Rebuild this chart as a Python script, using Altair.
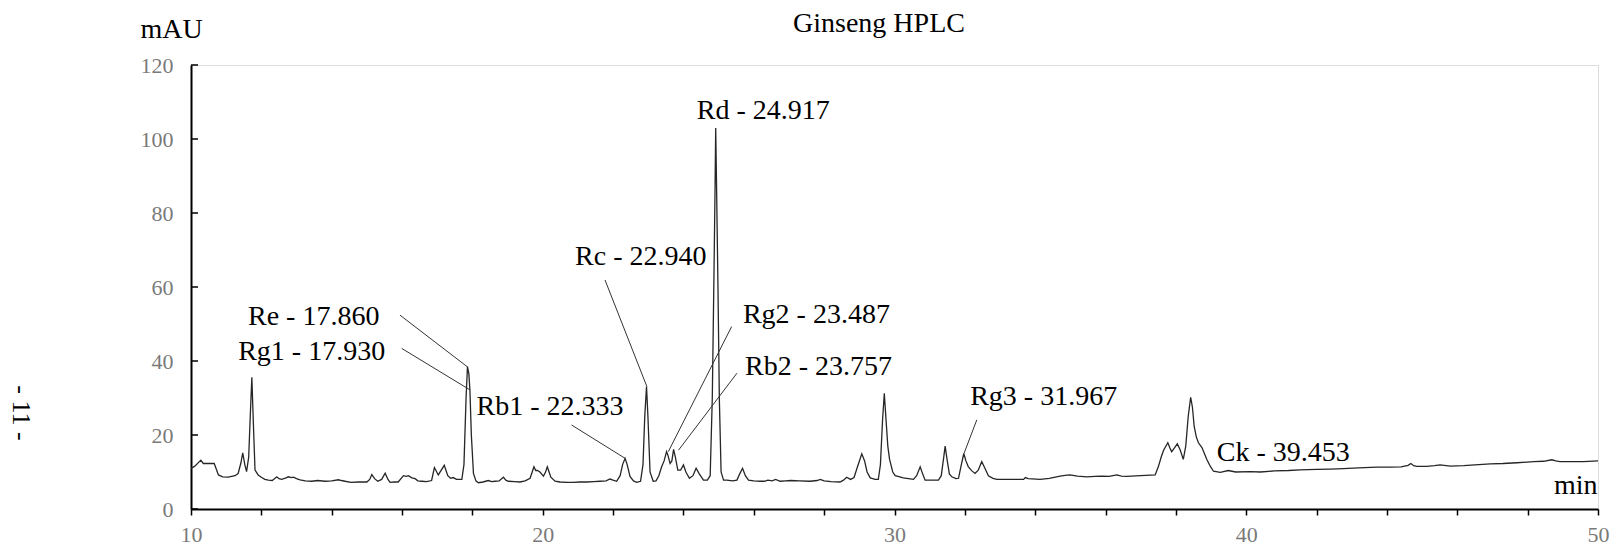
import altair as alt
import pandas as pd

# ---- chromatogram trace (retention time in min, absorbance in mAU) ----
times = [
    10.00, 10.10, 10.28, 10.35, 10.50, 10.66, 10.78, 10.90, 11.06, 11.25, 11.34, 11.42, 11.47, 11.53, 11.58,
    11.64, 11.68, 11.73, 11.77, 11.82, 11.91, 12.00, 12.10, 12.20, 12.31, 12.44, 12.50, 12.58, 12.70, 12.77,
    12.85, 12.91, 13.00, 13.10, 13.25, 13.43, 13.60, 13.81, 14.00, 14.19, 14.28, 14.38, 14.55, 14.76, 15.00,
    15.08, 15.14, 15.22, 15.31, 15.42, 15.52, 15.60, 15.66, 15.78, 15.89, 16.04, 16.12, 16.18, 16.28, 16.37,
    16.45, 16.56, 16.70, 16.84, 16.92, 17.03, 17.20, 17.30, 17.38, 17.45, 17.55, 17.64, 17.70, 17.76, 17.82,
    17.86, 17.90, 17.93, 17.97, 18.03, 18.10, 18.17, 18.30, 18.45, 18.55, 18.64, 18.76, 18.88, 18.95, 19.02,
    19.20, 19.35, 19.50, 19.64, 19.70, 19.75, 19.80, 19.85, 19.92, 20.02, 20.08, 20.13, 20.18, 20.23, 20.35,
    20.49, 20.70, 20.87, 21.05, 21.25, 21.45, 21.63, 21.80, 21.91, 22.00, 22.10, 22.20, 22.27, 22.34, 22.40,
    22.48, 22.58, 22.67, 22.78, 22.85, 22.90, 22.95, 22.99, 23.05, 23.14, 23.22, 23.30, 23.38, 23.45, 23.52,
    23.56, 23.62, 23.67, 23.72, 23.77, 23.84, 23.92, 24.00, 24.07, 24.17, 24.27, 24.36, 24.45, 24.57, 24.68,
    24.76, 24.82, 24.87, 24.90, 24.917, 24.94, 24.98, 25.02, 25.07, 25.14, 25.23, 25.40, 25.52, 25.60, 25.68,
    25.76, 25.85, 26.00, 26.18, 26.30, 26.40, 26.52, 26.62, 26.75, 26.90, 27.05, 27.30, 27.60, 27.80, 27.89,
    28.00, 28.20, 28.45, 28.55, 28.64, 28.75, 28.85, 28.95, 29.07, 29.15, 29.22, 29.31, 29.45, 29.54, 29.60,
    29.66, 29.71, 29.76, 29.81, 29.86, 29.95, 30.02, 30.10, 30.25, 30.40, 30.54, 30.63, 30.73, 30.80, 30.87,
    31.05, 31.25, 31.33, 31.40, 31.44, 31.50, 31.56, 31.63, 31.75, 31.82, 31.90, 31.97, 32.03, 32.10, 32.20,
    32.29, 32.38, 32.48, 32.56, 32.67, 32.80, 32.91, 33.20, 33.50, 33.67, 33.72, 33.80, 34.14, 34.40, 34.71,
    34.85, 34.99, 35.20, 35.47, 35.70, 35.89, 36.10, 36.32, 36.45, 36.60, 37.00, 37.41, 37.50, 37.58, 37.65,
    37.77, 37.83, 37.88, 37.96, 38.04, 38.12, 38.21, 38.28, 38.35, 38.42, 38.47, 38.52, 38.58, 38.64, 38.74,
    38.88, 38.98, 39.07, 39.26, 39.49, 39.70, 40.11, 40.40, 40.80, 41.20, 41.53, 42.00, 42.40, 42.76, 43.20,
    43.71, 44.09, 44.40, 44.60, 44.68, 44.76, 44.85, 45.13, 45.35, 45.51, 45.80, 46.18, 46.50, 46.94, 47.30,
    47.70, 48.17, 48.45, 48.69, 48.80, 48.92, 49.25, 49.58, 50.00,
]
absorbance = [
    11.0, 11.5, 13.2, 12.3, 12.3, 12.3, 9.2, 8.7, 8.6, 9.0, 9.6, 12.5, 15.2, 12.0, 10.1,
    14.0, 24.0, 35.6, 24.0, 10.5, 9.2, 8.6, 8.0, 7.8, 7.7, 8.7, 8.2, 8.0, 8.4, 8.7,
    8.5, 8.6, 8.2, 7.9, 7.6, 7.5, 7.7, 7.5, 7.6, 7.9, 7.7, 7.5, 7.2, 7.3, 7.3,
    8.0, 9.3, 8.2, 7.5, 8.0, 9.7, 8.0, 7.2, 7.3, 7.3, 9.0, 8.8, 9.0, 8.4, 8.2,
    7.6, 7.5, 7.4, 7.7, 11.2, 9.2, 11.8, 9.0, 8.3, 8.5, 8.0, 8.0, 8.0, 12.0, 30.0,
    38.5, 36.5, 32.0, 20.0, 9.6, 7.6, 7.1, 7.3, 7.7, 7.4, 7.5, 7.6, 8.6, 7.8, 7.5,
    7.4, 7.3, 7.6, 8.3, 10.0, 11.4, 10.4, 10.4, 10.0, 8.9, 10.0, 11.4, 10.0, 8.6, 7.5,
    7.3, 7.2, 7.2, 7.3, 7.3, 7.4, 7.5, 7.6, 8.1, 7.8, 7.5, 9.0, 12.0, 13.7, 12.0,
    8.8, 7.6, 7.2, 7.5, 12.0, 25.0, 33.1, 25.0, 10.0, 7.5, 7.6, 9.0, 11.4, 13.0, 15.5,
    14.5, 12.3, 13.0, 16.1, 14.0, 10.5, 10.5, 11.9, 10.0, 8.3, 9.0, 11.0, 9.5, 7.8, 7.8,
    9.0, 30.0, 65.0, 88.0, 103.0, 88.0, 61.0, 30.0, 10.0, 7.8, 7.8, 7.6, 7.8, 9.5, 11.0,
    9.0, 7.8, 7.6, 7.5, 7.5, 7.8, 7.6, 8.0, 7.5, 7.6, 7.7, 7.6, 7.5, 7.7, 8.0,
    7.6, 7.4, 7.3, 7.8, 8.6, 8.0, 8.5, 11.5, 14.9, 13.0, 10.0, 8.4, 8.0, 8.0, 12.0,
    24.0, 31.3, 24.0, 17.0, 13.4, 10.0, 9.0, 8.8, 8.4, 8.2, 8.0, 9.0, 11.4, 9.5, 7.8,
    7.8, 7.8, 9.0, 14.0, 17.0, 13.0, 9.5, 8.7, 8.2, 8.3, 12.0, 15.0, 13.0, 11.4, 10.3,
    9.6, 10.5, 12.8, 11.2, 9.0, 8.3, 8.0, 8.0, 8.0, 8.0, 8.5, 8.2, 8.0, 8.3, 8.9,
    9.1, 9.2, 8.9, 8.7, 8.8, 8.9, 8.8, 9.2, 8.9, 8.8, 9.0, 9.2, 11.4, 14.0, 15.9,
    17.9, 16.5, 15.5, 16.5, 17.6, 16.0, 13.4, 17.0, 25.0, 30.2, 27.5, 22.3, 19.5, 17.9, 16.6,
    13.4, 11.5, 10.2, 9.9, 10.4, 10.0, 10.1, 10.0, 10.3, 10.4, 10.6, 10.7, 10.8, 10.9, 11.1,
    11.3, 11.3, 11.4, 11.8, 12.3, 11.7, 11.5, 11.5, 11.7, 11.9, 11.6, 11.7, 11.9, 12.2, 12.3,
    12.5, 12.8, 12.9, 13.3, 13.0, 12.8, 12.8, 12.8, 13.0,
]

# ---- peak annotations ----
label_text = ["Re - 17.860", "Rg1 - 17.930", "Rb1 - 22.333", "Rc - 22.940", "Rd - 24.917",
              "Rg2 - 23.487", "Rb2 - 23.757", "Rg3 - 31.967", "Ck - 39.453"]
label_t = [11.62, 11.34, 18.12, 20.92, 24.38, 25.69, 25.75, 32.15, 39.16]
label_y = [49.7, 40.3, 25.4, 65.9, 105.4, 50.3, 36.2, 28.1, 13.1]

# ---- leader lines (label end -> peak) ----
line_t1 = [15.94, 15.99, 20.82, 21.77, 25.37, 25.52, 32.34]
line_y1 = [52.4, 43.4, 22.7, 61.9, 49.3, 36.7, 24.1]
line_t2 = [17.86, 17.93, 22.34, 22.96, 23.57, 23.86, 31.98]
line_y2 = [38.4, 32.2, 13.7, 33.1, 15.5, 15.9, 15.1]

x_ticks = list(range(10, 51))
y_ticks = [0, 20, 40, 60, 80, 100, 120]

title_text = ["Ginseng HPLC"]
page_text = ["- 11 -"]

SERIF = "Liberation Serif, Times New Roman, DejaVu Serif, serif"

trace_df = pd.DataFrame({"t": times, "a": absorbance})
label_df = pd.DataFrame({"label": label_text, "t": label_t, "a": label_y})
lines_df = pd.DataFrame({"t1": line_t1, "a1": line_y1, "t2": line_t2, "a2": line_y2})
ytick_df = pd.DataFrame({"v": y_ticks})
page_df = pd.DataFrame({"s": page_text})
title_df = pd.DataFrame({"s": title_text})

x_scale = alt.Scale(domain=[10, 50], nice=False, zero=False)
y_scale = alt.Scale(domain=[0, 120], nice=False)

x_axis = alt.Axis(
    values=x_ticks,
    labelExpr="datum.value % 5 === 0 ? datum.label : ''",
    tickSize=6, tickColor="black", tickWidth=1.5,
    domainColor="black", domainWidth=2,
    labelFont=SERIF, labelFontSize=22, labelColor="#7a7a7a", labelPadding=9,
    labelFlush=False, labelOverlap=False, grid=False,
    title="min", titleFont=SERIF, titleFontSize=28, titleFontWeight="normal", titleColor="black",
    titleAlign="right", titleBaseline="alphabetic", titleX=1406, titleY=-16, titleAngle=0,
)
y_axis = alt.Axis(
    values=y_ticks, ticks=False,
    domainColor="black", domainWidth=2,
    labelFont=SERIF, labelFontSize=22, labelColor="#7a7a7a", labelPadding=18,
    grid=False,
    title="mAU", titleFont=SERIF, titleFontSize=28, titleFontWeight="normal", titleColor="black",
    titleAngle=0, titleAlign="center", titleBaseline="alphabetic", titleX=-20, titleY=-28,
)

trace = alt.Chart(trace_df).mark_line(color="#262626", strokeWidth=1.3).encode(
    x=alt.X("t:Q", scale=x_scale, axis=x_axis),
    y=alt.Y("a:Q", scale=y_scale, axis=y_axis),
)

leaders = alt.Chart(lines_df).mark_rule(color="#333333", strokeWidth=1).encode(
    x=alt.X("t1:Q", scale=x_scale), y=alt.Y("a1:Q", scale=y_scale),
    x2="t2:Q", y2="a2:Q",
)

labels = alt.Chart(label_df).mark_text(
    font=SERIF, fontSize=28, align="left", baseline="alphabetic", color="black"
).encode(
    x=alt.X("t:Q", scale=x_scale), y=alt.Y("a:Q", scale=y_scale), text="label:N"
)

yticks = alt.Chart(ytick_df).mark_rule(color="black", strokeWidth=1.5).encode(
    y=alt.Y("v:Q", scale=y_scale), x=alt.value(0), x2=alt.value(7)
)

title = alt.Chart(title_df).mark_text(
    font=SERIF, fontSize=28, align="center", baseline="alphabetic", color="black"
).encode(text="s:N", x=alt.value(688), y=alt.value(-33))

page = alt.Chart(page_df).mark_text(
    font=SERIF, fontSize=26, angle=90, align="center", baseline="middle", color="black"
).encode(text="s:N", x=alt.value(-170), y=alt.value(348))

chart = alt.layer(trace, leaders, labels, yticks, title, page).properties(
    width=1407, height=444,
    autosize=alt.AutoSizeParams(type="none"),
    padding={"left": 191, "top": 65, "right": 22, "bottom": 40},
).configure_view(strokeWidth=0).configure(background="white")

chart.save("out.html", embed_options={"renderer": "svg", "actions": False})
